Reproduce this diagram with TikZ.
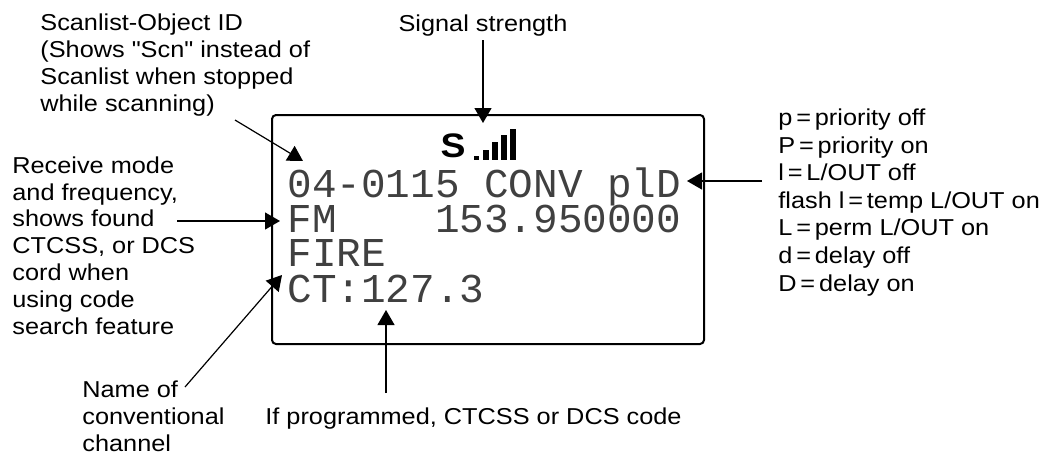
\documentclass[tikz,border=0pt]{standalone}
\usepackage{fontspec}
\setmainfont{Liberation Sans}[FakeStretch=1.1, Ligatures=TeXOff]
\newfontfamily\lcdfont{Liberation Mono}
\usetikzlibrary{arrows.meta,positioning}

\newcommand{\eq}{\,=\,}

\begin{document}
\begin{tikzpicture}[x=0.5pt,y=-0.5pt,
    lbl/.style={align=left, inner sep=0pt, anchor=base west,
      font=\fontsize{11.5}{13.4}\selectfont},
    lcd/.style={inner sep=0pt, anchor=base west, text=black!75,
      text height=13pt, text depth=0pt,
      font=\lcdfont\fontsize{20.5}{20.5}\selectfont},
    ptr/.style={-{Triangle[length=7.5pt,width=8.5pt]}, line width=0.6pt}]
    \useasboundingbox (0,0) rectangle (1044,461);
    % display
    \draw[line width=1pt, rounded corners=2pt] (272,115) rectangle (704,344);
    \node[font=\bfseries\fontsize{17}{17}\selectfont, inner sep=0pt, anchor=base] (sicon) at (453,157) {S};
    \fill (474,156) rectangle (479,160);
    \foreach \x/\t in {483/150, 492/142, 501/135, 510/129}
      \fill (\x,\t) rectangle (\x+5.5,160);
    \node[lcd] (row1) at (287,197) {04-0115 CONV plD};
    \node[lcd] (row2) at (287,232) {FM\ \ \ \ 153.950000};
    \node[lcd] (row3) at (287,266) {FIRE};
    \node[lcd] (row4) at (287,302) {CT:127.3};
    % labels (base = last line)
    \node[lbl] (scan) at (40,111) {Scanlist-Object ID\\(Shows "Scn" instead of\\Scanlist when stopped\\while scanning)};
    \node[lbl, anchor=base] (sig) at (483,31) {Signal strength};
    \node[lbl] (recv) at (12,334) {Receive mode\\and frequency,\\shows found\\CTCSS, or DCS\\cord when\\using code\\search feature};
    \node[lbl] (name) at (82,451) {Name of\\conventional\\channel};
    \node[lbl] (prog) at (265,424) {If programmed, CTCSS or DCS code};
    \node[lbl, font=\fontsize{11.5}{13.8}\selectfont] (flags) at (778,291) {p\eq priority off\\P\eq priority on\\l\eq L/OUT off\\flash l\eq temp L/OUT on\\L\eq perm L/OUT on\\d\eq delay off\\D\eq delay on};
    % pointers
    \coordinate (scanfrom) at (235,120);
    \coordinate (scantip) at (303,161);
    \coordinate (sigtip) at (483,123);
    \coordinate (recvfrom) at (177,221);
    \coordinate (recvtip) at (280,221);
    \coordinate (namefrom) at (185,387);
    \coordinate (nametip) at (282,275);
    \coordinate (progfrom) at (386,393);
    \coordinate (progtip) at (386,310);
    \coordinate (flagsfrom) at (762,181);
    \coordinate (flagstip) at (687,181);
    \draw[ptr] (scanfrom) -- (scantip);
    \draw[ptr] ([yshift=-2pt]sig.south) -- (sigtip);
    \draw[ptr] (recvfrom) -- (recvtip);
    \draw[ptr] (namefrom) -- (nametip);
    \draw[ptr] (progfrom) -- (progtip);
    \draw[ptr] (flagsfrom) -- (flagstip);
\end{tikzpicture}
\end{document}
